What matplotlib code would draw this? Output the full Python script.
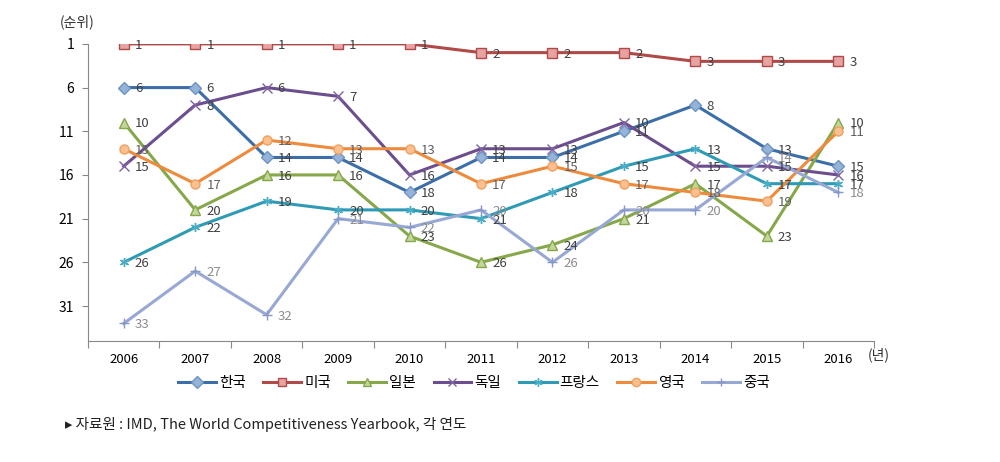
import matplotlib.pyplot as plt
from matplotlib.lines import Line2D

plt.rcParams['font.family'] = ['Noto Sans CJK KR', 'DejaVu Sans']

# ==========================
# DATA
# ==========================
years = ['2006', '2007', '2008', '2009', '2010', '2011', '2012', '2013', '2014', '2015', '2016']
countries = ['한국', '미국', '일본', '독일', '프랑스', '영국', '중국']

korea = [6, 6, 14, 14, 18, 14, 14, 11, 8, 13, 15]
usa = [1, 1, 1, 1, 1, 2, 2, 2, 3, 3, 3]
japan = [10, 20, 16, 16, 23, 26, 24, 21, 17, 23, 10]
germany = [15, 8, 6, 7, 16, 13, 13, 10, 15, 15, 16]
france = [26, 22, 19, 20, 20, 21, 18, 15, 13, 17, 17]
uk = [13, 17, 12, 13, 13, 17, 15, 17, 18, 19, 11]
china = [33, 27, 32, 21, 22, 20, 26, 20, 20, 14, 18]

series = [korea, usa, japan, germany, france, uk, china]

# line colour, marker, marker face, marker edge, label colour
styles = [
    ('#3C6EA8', 'D', '#95B3D7', '#6F94C6', '#404040'),
    ('#B04A48', 's', '#E6A3A2', '#B04A48', '#404040'),
    ('#86A84A', '^', '#C3D69B', '#86A84A', '#404040'),
    ('#6B4E8E', 'x', '#8064A2', '#8064A2', '#404040'),
    ('#2F9AB5', (6, 2, 0), '#4BACC6', '#4BACC6', '#404040'),
    ('#EE8A3C', 'o', '#FAC090', '#F0A060', '#606060'),
    ('#98A8D4', '+', '#98A8D4', '#8797C8', '#8C8C8C'),
]

# ==========================
# PLOT
# ==========================
fig = plt.figure(figsize=(10, 4.62), dpi=100)
ax = fig.add_axes([0.088, 0.262, 0.786, 0.643])

x = list(range(len(years)))
handles = []
for name, vals, (lc, mk, mf, me, tc) in zip(countries, series, styles):
    ax.plot(x, vals, color=lc, lw=2.2, marker=mk, markersize=6.5,
            markerfacecolor=mf, markeredgecolor=me, markeredgewidth=1.0, zorder=3)
    for xi, v in zip(x, vals):
        ax.annotate(str(v), (xi, v), xytext=(8, -1), textcoords='offset points',
                    ha='left', va='center', fontsize=9.5, color=tc, zorder=4)
    handles.append(Line2D([], [], color=lc, lw=2.2, marker=mk, markersize=6,
                          markerfacecolor=mf, markeredgecolor=me, label=name))

ax.set_xlim(-0.5, len(years) - 0.5)
ax.set_ylim(35, 1)
ax.set_yticks([1, 6, 11, 16, 21, 26, 31])
ax.tick_params(axis='y', length=4, color='#888888', labelsize=10, pad=6)

ax.set_xticks([i - 0.5 for i in range(len(years) + 1)])
ax.set_xticklabels([])
ax.set_xticks(x, minor=True)
ax.set_xticklabels(years, minor=True, fontsize=9.5)
ax.tick_params(axis='x', which='major', length=5, color='#888888')
ax.tick_params(axis='x', which='minor', length=0, pad=9)

for s in ['top', 'right']:
    ax.spines[s].set_visible(False)
ax.spines['left'].set_color('#888888')
ax.spines['bottom'].set_color('#888888')

fig.text(0.06, 0.952, '(순위)', fontsize=10, ha='left', va='center', color='#303030')
fig.text(0.868, 0.231, '(년)', fontsize=10, ha='left', va='center', color='#303030')

fig.legend(handles=handles, loc='center', bbox_to_anchor=(0.474, 0.171), ncol=7,
           frameon=False, fontsize=10.5, handlelength=2.6, handletextpad=0.2,
           columnspacing=1.2)

fig.text(0.065, 0.082, '▸ 자료원 : IMD, The World Competitiveness Yearbook, 각 연도',
         fontsize=10.5, ha='left', va='center', color='#202020')

plt.savefig('out.png', dpi=100, facecolor='white')
plt.close()
